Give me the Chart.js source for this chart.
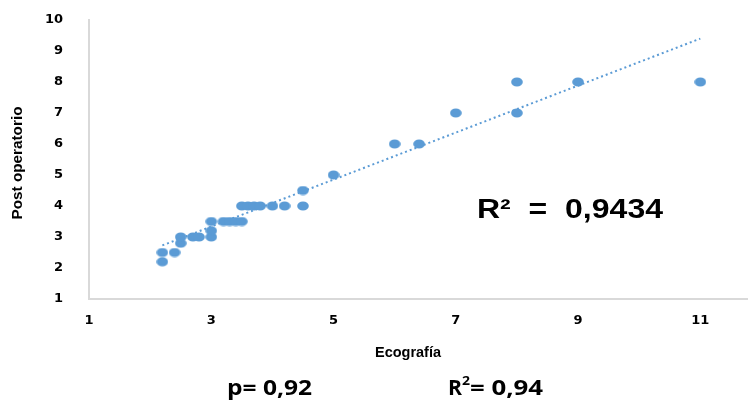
<!DOCTYPE html>
<html>
<head>
<meta charset="utf-8">
<script src="https://cdn.jsdelivr.net/npm/chart.js@4.4.1/dist/chart.umd.min.js"></script>
<style>
    html, body { margin: 0; padding: 0; background: #fff; }
    #wrap { width: 748px; height: 403px; position: relative; }
</style>
</head>
<body>
<div id="wrap"><canvas id="myChart" width="748" height="403"></canvas></div>
<script>
// Ecografía (x) vs Post operatorio (y)
const ecoValues = [2.2, 2.2, 2.4, 2.5, 2.5, 2.7, 2.8, 3, 3, 3, 3.2, 3.3, 3.4, 3.5,
    3.5, 3.6, 3.7, 3.8, 4, 4.2, 4.5, 4.5, 5, 6, 6.4, 7, 8, 8, 9, 11];
const postValues = [2.2, 2.5, 2.5, 2.8, 3, 3, 3, 3, 3.2, 3.5, 3.5, 3.5, 3.5, 3.5,
    4, 4, 4, 4, 4, 4, 4, 4.5, 5, 6, 6, 7, 7, 8, 8, 8];
const trendX = [2.2, 11];
const trendY = [2.73, 9.4];
const xTickValues = [1, 3, 5, 7, 9, 11];
const yTickValues = [1, 2, 3, 4, 5, 6, 7, 8, 9, 10];
const r2Label = "R²  =  0,9434";
const footLeft = "p= 0,92";
const footRight = "= 0,94";

const blue = "#5B9BD5";
const tickFont = { family: "'DejaVu Sans', Arial", size: 13, weight: "bold" };

// slightly wide dot, like the stretched original
const dot = document.createElement("canvas");
dot.width = 12;
dot.height = 10;
const dctx = dot.getContext("2d");
dctx.fillStyle = blue;
dctx.beginPath();
dctx.ellipse(6, 5, 5.8, 4.6, 0, 0, Math.PI * 2);
dctx.fill();

// draw text stretched to a given width
function fitText(c, text, x, y, w, font, align) {
    c.font = font;
    const m = c.measureText(text).width;
    const k = w / m;
    c.save();
    c.translate(align === "center" ? x - w / 2 : x, y);
    c.scale(k, 1);
    c.fillText(text, 0, 0);
    c.restore();
}

const textPlugin = {
    id: "extraText",
    afterDraw(chart) {
        const c = chart.ctx;
        c.save();
        c.fillStyle = "#000";
        c.textBaseline = "alphabetic";
        c.textAlign = "left";
        fitText(c, r2Label, 477, 218, 186, "bold 27px 'Liberation Sans', Arial");

        fitText(c, "Ecografía", 408, 357, 66, "bold 15px 'Liberation Sans', Arial", "center");

        c.save();
        c.translate(22, 163);
        c.rotate(-Math.PI / 2);
        fitText(c, "Post operatorio", 0, 0, 113, "bold 15px 'Liberation Sans', Arial", "center");
        c.restore();

        const f = "bold 22px 'Open Sans', sans-serif";
        fitText(c, footLeft, 227, 395, 85, f);
        fitText(c, "R", 448, 395, 14, f);
        fitText(c, "2", 462, 385, 8, "bold 13px 'Open Sans', sans-serif");
        fitText(c, footRight, 470, 395, 73, f);
        c.restore();
    },
};

const ctx = document.getElementById("myChart");
const chart = new Chart(ctx, {
    type: "scatter",
    data: {
        datasets: [
            {
                data: ecoValues.map((x, i) => ({ x, y: postValues[i] })),
                pointStyle: dot,
                backgroundColor: blue,
                borderColor: blue,
                borderWidth: 0,
                clip: false,
            },
            {
                type: "line",
                data: trendX.map((x, i) => ({ x, y: trendY[i] })),
                borderColor: blue,
                borderWidth: 2,
                borderDash: [2, 3],
                fill: false,
                pointRadius: 0,
                pointHoverRadius: 0,
            },
        ],
    },
    options: {
        responsive: false,
        animation: false,
        layout: { autoPadding: false, padding: { top: 20, right: 0, left: 0, bottom: 0 } },
        plugins: {
            legend: { display: false },
            tooltip: { enabled: false },
        },
        scales: {
            x: {
                type: "linear",
                min: 1,
                max: 11.78,
                afterBuildTicks: (scale) => {
                    scale.ticks = xTickValues.map((v) => ({ value: v }));
                },
                afterFit: (scale) => {
                    scale.height = 104;
                    scale.paddingLeft = 0;
                    scale.paddingRight = 0;
                },
                grid: { display: false },
                border: { display: true, color: "#d9d9d9", width: 2 },
                ticks: { color: "#000", font: tickFont, padding: 6, maxRotation: 0 },
            },
            y: {
                type: "linear",
                min: 1,
                max: 10,
                afterBuildTicks: (scale) => {
                    scale.ticks = yTickValues.map((v) => ({ value: v }));
                },
                afterFit: (scale) => {
                    // keep the tick padding from pushing the plot area down
                    scale.width = 89;
                    scale.paddingTop = 0;
                    scale.paddingBottom = 0;
                },
                grid: { display: false },
                border: { display: true, color: "#d9d9d9", width: 2 },
                ticks: { color: "#000", font: tickFont, padding: 18 },
            },
        },
    },
    plugins: [textPlugin],
});
</script>
</body>
</html>
